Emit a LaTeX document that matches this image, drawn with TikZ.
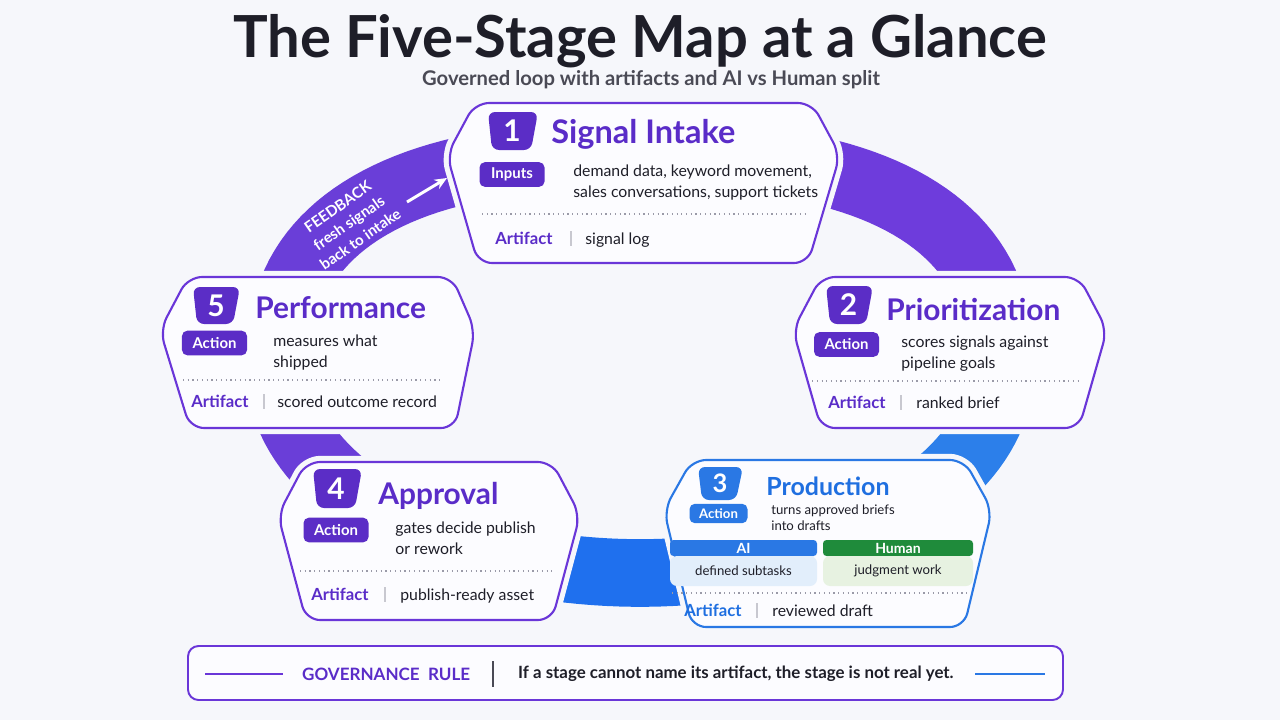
\documentclass[tikz,border=0pt]{standalone}
\usepackage{fontspec}
\setmainfont{Lato}
\usetikzlibrary{arrows.meta,positioning}
\definecolor{pagebg}{HTML}{F6F7FB}
\definecolor{cardfill}{HTML}{FCFCFF}
\definecolor{stagepurple}{HTML}{6A36D8}
\definecolor{titlepurple}{HTML}{5A2CC8}
\definecolor{pillpurple}{HTML}{5B2DC6}
\definecolor{ringpurple}{HTML}{6A3ED8}
\definecolor{ringviolet}{HTML}{6E3CDC}
\definecolor{ringblue}{HTML}{2C7FEA}
\definecolor{ringdeep}{HTML}{1F70EE}
\definecolor{stageblue}{HTML}{2A78E4}
\definecolor{titleblue}{HTML}{1F6FE0}
\definecolor{aifill}{HTML}{E2EEFB}
\definecolor{humangreen}{HTML}{1F8B3B}
\definecolor{humanfill}{HTML}{E7F2E1}
\definecolor{ink}{HTML}{1E1E28}
\definecolor{subgray}{HTML}{4A4A55}
\definecolor{dotgray}{HTML}{9A9AA8}
\definecolor{bargray}{HTML}{C8C8D0}

\begin{document}
\begin{tikzpicture}[
  x=0.02cm, y=-0.02cm,
  band/.style={line width=38.5pt},
  frame/.style={draw=stagepurple, line width=1.2pt, fill=cardfill, rounded corners=8pt,
    preaction={draw=pagebg, line width=7pt}},
  badge/.style={fill=pillpurple, rounded corners=4pt},
  badgenum/.style={text=white, font=\bfseries\fontsize{17}{17}\selectfont, inner sep=0pt},
  stagetitle/.style={anchor=base west, text=titlepurple, font=\bfseries\fontsize{17}{19}\selectfont, inner sep=0pt},
  pill/.style={fill=pillpurple, text=white, rounded corners=3pt, font=\bfseries\fontsize{8.5}{10}\selectfont, minimum width=37pt, minimum height=14pt, inner sep=0pt},
  desc/.style={anchor=north west, align=left, text=ink, font=\fontsize{9}{12}\selectfont, inner sep=0pt},
  sep/.style={draw=dotgray, dotted, line width=0.7pt},
  artlabel/.style={anchor=base west, text=titlepurple, font=\bfseries\fontsize{9.5}{11}\selectfont, inner sep=0pt},
  arttext/.style={anchor=base west, text=ink, font=\fontsize{9}{11}\selectfont, inner sep=0pt},
  bar/.style={draw=bargray, line width=0.8pt},
  fbarrow/.style={-{Stealth[length=7pt,width=6pt]}, draw=white, line width=1.7pt},
]
  \useasboundingbox[fill=pagebg] (0,0) rectangle (1280,720);

  % heading
  \node[font=\bfseries\fontsize{33}{35}\selectfont, text=ink] (title) at (640,41) {The Five-Stage Map at a Glance};
  \node[font=\bfseries\fontsize{11.5}{13}\selectfont, text=subgray] (subtitle) at (651,80) {Governed loop with artifacts and AI vs Human split};

  % the loop behind the cards (upper half a little squarer)
  \draw[band, ringpurple] plot[domain=92:179, samples=40] ({640-360*(-cos(\x))^0.8},{370-215*(sin(\x))^0.8});
  \draw[band, ringviolet] plot[domain=1:88, samples=40] ({640+360*(cos(\x))^0.8},{370-215*(sin(\x))^0.8});
  \draw[band, ringblue] plot[domain=0:-60, samples=30] ({640+360*cos(\x)},{370-203*sin(\x)});
  \draw[band, ringdeep] plot[domain=-60:-120, samples=30] ({640+360*cos(\x)},{370-203*sin(\x)});
  \draw[band, ringpurple] plot[domain=-120:-180, samples=30] ({640+360*cos(\x)},{370-203*sin(\x)});

  % feedback label on the loop
  \node[rotate=35, align=center, text=white, font=\bfseries\fontsize{8.6}{11.2}\selectfont] (feedback) at (349,223) {FEEDBACK\\fresh signals\\back to intake};
  \coordinate (fbtail) at (407,202);
  \coordinate (fbhead) at (447,178);
  \draw[fbarrow] (fbtail) -- (fbhead);

  % stage 1
  \draw[frame] (475,103) -- (812,103) -- (840,155) -- (808,263) -- (478,263) -- (447,155) -- cycle;
  \fill[badge] (488,112) -- (538,112) -- (531,150) -- (492,150) -- cycle;
  \node[badgenum] (b1) at (512,131) {1};
  \node[stagetitle, font=\bfseries\fontsize{18.5}{20}\selectfont] (t1) at (551,143) {Signal Intake};
  \node[pill] (p1) at (512,174.5) {Inputs};
  \node[desc] (d1) at (573,164) {demand data, keyword movement,\\sales conversations, support tickets};
  \draw[sep] (482,214) -- (807,214);
  \node[artlabel] (a1) at (495,244) {Artifact};
  \draw[bar] (571,231) -- (571,246);
  \node[arttext] (r1) at (585,244) {signal log};

  % stage 2
  \draw[frame] (821,277) -- (1079,277) -- (1107,330) -- (1079,428) -- (821,428) -- (793,330) -- cycle;
  \fill[badge] (826,286) -- (873,286) -- (866,324) -- (830,324) -- cycle;
  \node[badgenum] (b2) at (848.5,305) {2};
  \node[stagetitle] (t2) at (886,320) {Prioritization};
  \node[pill] (p2) at (846.5,344.5) {Action};
  \node[desc] (d2) at (901,335) {scores signals against\\pipeline goals};
  \draw[sep] (812,381) -- (1080,381);
  \node[artlabel] (a2) at (828,408) {Artifact};
  \draw[bar] (901,395) -- (901,410);
  \node[arttext] (r2) at (916,408) {ranked brief};

  % stage 3
  \draw[frame, draw=stageblue] (692,460) -- (964,460) -- (992,510) -- (964,627) -- (692,627) -- (664,510) -- cycle;
  \fill[badge, fill=stageblue] (698,467) -- (743,467) -- (736,500) -- (702,500) -- cycle;
  \node[badgenum, font=\bfseries\fontsize{14.5}{14.5}\selectfont] (b3) at (720,483.5) {3};
  \node[stagetitle, text=titleblue, font=\bfseries\fontsize{14.2}{16}\selectfont] (t3) at (766,495) {Production};
  \node[pill, fill=stageblue, minimum width=33pt, minimum height=11pt, font=\bfseries\fontsize{7.5}{9}\selectfont] (p3) at (718.5,513.5) {Action};
  \node[desc, font=\fontsize{7.5}{9.2}\selectfont] (d3) at (771,504) {turns approved briefs\\into drafts};
  \fill[stageblue, rounded corners=2pt] (670,556) -- (670,540) -- (817,540) -- (817,556) -- cycle;
  \fill[aifill, rounded corners=4pt] (670,556) -- (670,586) -- (817,586) -- (817,556) -- cycle;
  \fill[humangreen, rounded corners=2pt] (823,556) -- (823,540) -- (973,540) -- (973,556) -- cycle;
  \fill[humanfill, rounded corners=4pt] (823,556) -- (823,586) -- (973,586) -- (973,556) -- cycle;
  \node[text=white, font=\bfseries\fontsize{8}{9}\selectfont] (aihead) at (743.5,548) {AI};
  \node[text=ink, font=\fontsize{7.5}{9}\selectfont] (aibody) at (743.5,571) {defined subtasks};
  \node[text=white, font=\bfseries\fontsize{8}{9}\selectfont] (humanhead) at (898,548) {Human};
  \node[text=ink, font=\fontsize{7.5}{9}\selectfont] (humanbody) at (898,571) {judgment work};
  \draw[sep] (672,593) -- (968,593);
  \node[artlabel, text=titleblue] (a3) at (684,616) {Artifact};
  \draw[bar] (757,603) -- (757,618);
  \node[arttext] (r3) at (772,616) {reviewed draft};

  % stage 4
  \draw[frame] (306,462) -- (552,462) -- (580,515) -- (552,620) -- (306,620) -- (278,515) -- cycle;
  \fill[badge] (313,469) -- (362,469) -- (355,508) -- (317,508) -- cycle;
  \node[badgenum] (b4) at (336,488.5) {4};
  \node[stagetitle] (t4) at (378,504) {Approval};
  \node[pill] (p4) at (336,530) {Action};
  \node[desc] (d4) at (395,521) {gates decide publish\\or rework};
  \draw[sep] (300,571) -- (552,571);
  \node[artlabel] (a4) at (311,600) {Artifact};
  \draw[bar] (385,587) -- (385,602);
  \node[arttext] (r4) at (400,600) {publish-ready asset};

  % stage 5
  \draw[frame] (188,277) -- (452,277) -- (475,330) -- (455,428) -- (190,428) -- (160,330) -- cycle;
  \fill[badge] (193,287) -- (240,287) -- (233,324) -- (197,324) -- cycle;
  \node[badgenum] (b5) at (216,305.5) {5};
  \node[stagetitle] (t5) at (255,318) {Performance};
  \node[pill] (p5) at (214.5,343) {Action};
  \node[desc] (d5) at (273,334) {measures what\\shipped};
  \draw[sep] (183,380) -- (440,380);
  \node[artlabel] (a5) at (191,407) {Artifact};
  \draw[bar] (264,394) -- (264,409);
  \node[arttext] (r5) at (277,407) {scored outcome record};

  % governance rule
  \draw[draw=stagepurple, line width=1.1pt, fill=cardfill, rounded corners=6pt] (188,646) rectangle (1063,700);
  \draw[stagepurple, line width=1.4pt] (205,674) -- (283,674);
  \draw[stageblue, line width=1.4pt] (975,674) -- (1045,674);
  \node[anchor=west, text=titlepurple, font=\bfseries\fontsize{9.7}{11}\selectfont] (rulehead) at (296,674) {GOVERNANCE\ \ RULE};
  \draw[bar, draw=subgray] (493,661) -- (493,687);
  \node[anchor=west, text=ink, font=\bfseries\fontsize{9.6}{11}\selectfont] (ruletext) at (512,674) {If a stage cannot name its artifact, the stage is not real yet.};
\end{tikzpicture}
\end{document}
